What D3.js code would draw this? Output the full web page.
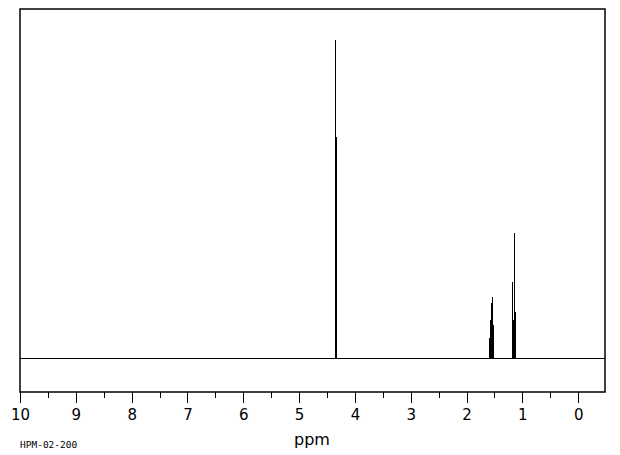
<!DOCTYPE html>
<html>
<head>
<meta charset="utf-8">
<script src="https://cdn.jsdelivr.net/npm/d3@7"></script>
<style>
  body { margin: 0; background: #fff; }
  svg { display: block; }
</style>
</head>
<body>
<svg id="chart" width="620" height="455"></svg>
<script>
// peak lines (ppm, relative height)
var peakPpm = [4.355, 4.340,
               1.595, 1.577, 1.559, 1.541, 1.523,
               1.183, 1.165, 1.147, 1.129];
var peakHeight = [100, 69.5,
                  6.3, 11.9, 17.3, 19.2, 10.4,
                  23.9, 12, 39.3, 14.5];
var majorTicks = [10, 9, 8, 7, 6, 5, 4, 3, 2, 1, 0];
var minorTicks = [9.5, 8.5, 7.5, 6.5, 5.5, 4.5, 3.5, 2.5, 1.5, 0.5];

var plotLeft = 20, plotRight = 605, plotTop = 9, plotBottom = 392;

var svg = d3.select('#chart');

var x = d3.scaleLinear().domain([10, -0.48]).range([plotLeft, plotRight]);
var y = d3.scaleLinear().domain([0, 100]).range([358, 40]);

function px(v) { return Math.round(v) + 0.5; }

// frame
svg.append('rect')
    .attr('x', plotLeft)
    .attr('y', plotTop)
    .attr('width', plotRight - plotLeft)
    .attr('height', plotBottom - plotTop)
    .attr('fill', 'none')
    .attr('stroke', '#000')
    .attr('stroke-width', 1.5);

// baseline
svg.append('line')
    .attr('x1', plotLeft).attr('x2', plotRight)
    .attr('y1', px(y(0))).attr('y2', px(y(0)))
    .attr('stroke', '#000')
    .attr('shape-rendering', 'crispEdges');

// peaks
svg.append('g').selectAll('line')
    .data(peakPpm).enter()
    .append('line')
    .attr('x1', function(d) { return px(x(d)); })
    .attr('x2', function(d) { return px(x(d)); })
    .attr('y1', y(0))
    .attr('y2', function(d, i) { return y(peakHeight[i]); })
    .attr('stroke', '#000')
    .attr('stroke-width', 1)
    .attr('shape-rendering', 'crispEdges');

// axis
var axis = svg.append('g')
    .attr('transform', 'translate(0,' + plotBottom + ')')
    .call(d3.axisBottom(x).tickValues(majorTicks).tickSize(11).tickPadding(6)
        .tickFormat(d3.format('d')));
axis.select('.domain').remove();
axis.selectAll('line').attr('stroke', '#000').attr('shape-rendering', 'crispEdges');
axis.selectAll('text')
    .attr('fill', '#000')
    .attr('font-family', 'DejaVu Sans')
    .attr('font-size', 15);

svg.append('g').selectAll('line')
    .data(minorTicks).enter()
    .append('line')
    .attr('x1', function(d) { return px(x(d)); })
    .attr('x2', function(d) { return px(x(d)); })
    .attr('y1', plotBottom)
    .attr('y2', plotBottom + 6)
    .attr('stroke', '#000')
    .attr('shape-rendering', 'crispEdges');

svg.append('text')
    .attr('x', 312)
    .attr('y', 445)
    .attr('text-anchor', 'middle')
    .attr('font-family', 'DejaVu Sans')
    .attr('font-size', 16)
    .text('ppm');

svg.append('text')
    .attr('x', 20)
    .attr('y', 448)
    .attr('font-family', 'DejaVu Sans Mono')
    .attr('font-size', 9.5)
    .text('HPM-02-200');
</script>
</body>
</html>
